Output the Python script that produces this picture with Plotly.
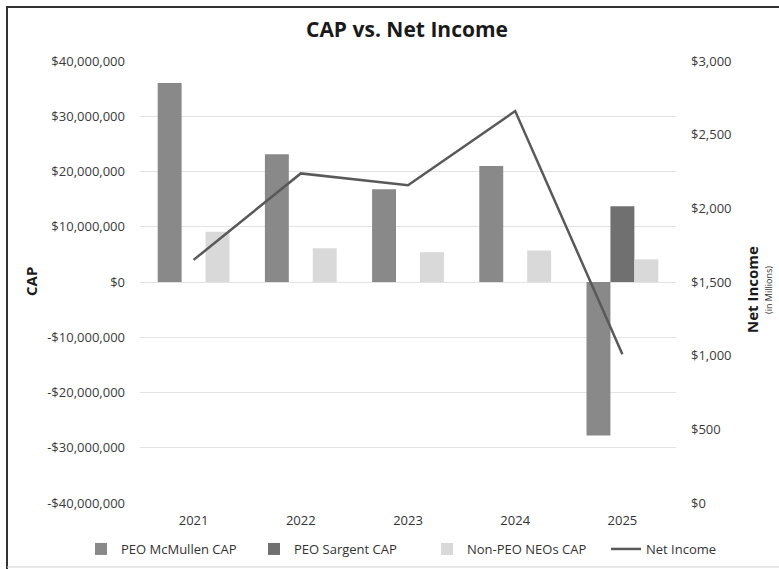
import plotly.graph_objects as go

years = ["2021", "2022", "2023", "2024", "2025"]
mcmullen_cap = [36.0e6, 23.1e6, 16.8e6, 21.0e6, -27.8e6]
sargent_cap = [None, None, None, None, 13.7e6]
non_peo_cap = [9.1e6, 6.1e6, 5.4e6, 5.7e6, 4.1e6]
net_income = [1650, 2237, 2157, 2660, 1010]

left_tick_vals = [-40e6, -30e6, -20e6, -10e6, 0, 10e6, 20e6, 30e6, 40e6]
left_tick_text = ["-$40,000,000", "-$30,000,000", "-$20,000,000", "-$10,000,000", "$0",
                  "$10,000,000", "$20,000,000", "$30,000,000", "$40,000,000"]
right_tick_vals = [0, 500, 1000, 1500, 2000, 2500, 3000]
right_tick_text = ["$0", "$500", "$1,000", "$1,500", "$2,000", "$2,500", "$3,000"]

FONT = "Open Sans, Liberation Sans, sans-serif"
TICK_COLOR = "#3a3a3a"

fig = go.Figure()
fig.add_trace(go.Bar(x=years, y=mcmullen_cap, name="PEO McMullen CAP",
                     marker=dict(color="#898989", line=dict(width=0))))
fig.add_trace(go.Bar(x=years, y=sargent_cap, name="PEO Sargent CAP",
                     marker=dict(color="#707070", line=dict(width=0))))
fig.add_trace(go.Bar(x=years, y=non_peo_cap, name="Non-PEO NEOs CAP",
                     marker=dict(color="#d9d9d9", line=dict(width=0))))
fig.add_trace(go.Scatter(x=years, y=net_income, name="Net Income", yaxis="y2",
                         mode="lines", line=dict(color="#595959", width=2.5),
                         legend="legend2"))

L, R, T, B = 140, 103, 61, 66
W, H = 779, 569
pw, ph = W - L - R, H - T - B

def px_x(px):
    return (px - L) / pw

def px_y(py):
    return (H - B - py) / ph

legend_common = dict(orientation="h", xanchor="left", yref="paper", y=px_y(549),
                     yanchor="middle", font=dict(size=13, color="#333333"),
                     traceorder="normal", itemwidth=30, bgcolor="rgba(0,0,0,0)")

fig.update_layout(
    width=W, height=H,
    margin=dict(l=L, r=R, t=T, b=B, autoexpand=False),
    paper_bgcolor="white", plot_bgcolor="white",
    font=dict(family=FONT, size=13, color=TICK_COLOR),
    barmode="group", bargap=0.33, bargroupgap=0,
    title=dict(text="<b>CAP vs. Net Income</b>", xref="container", x=407 / W, xanchor="center",
               yref="container", y=1 - 30 / H, yanchor="middle",
               font=dict(family=FONT, size=21, color="#1a1a1a")),
    xaxis=dict(type="category", showgrid=False, showline=False, ticks="",
               tickfont=dict(size=13, color="#333333"), ticklabelstandoff=8),
    yaxis=dict(range=[-40e6, 40e6], tickvals=left_tick_vals, ticktext=left_tick_text,
               showgrid=True, gridcolor="#e3e3e3", gridwidth=1,
               zeroline=True, zerolinecolor="#e3e3e3", zerolinewidth=1,
               showline=False, ticks="", ticklabelstandoff=14,
               tickfont=dict(size=13, color=TICK_COLOR)),
    yaxis2=dict(range=[0, 3000], tickvals=right_tick_vals, ticktext=right_tick_text,
                overlaying="y", side="right", showgrid=False, zeroline=False,
                showline=False, ticks="", ticklabelstandoff=14,
                tickfont=dict(size=13, color=TICK_COLOR)),
    legend=dict(xref="paper", x=px_x(81), entrywidth=128, entrywidthmode="pixels",
                **legend_common),
    legend2=dict(xref="paper", x=px_x(606), **legend_common),
    showlegend=True,
    annotations=[
        dict(text="<b>CAP</b>", xref="paper", yref="paper", x=px_x(31), y=px_y(282),
             textangle=-90, showarrow=False, xanchor="center", yanchor="middle",
             font=dict(family=FONT, size=15, color="#1a1a1a")),
        dict(text="<b>Net Income</b>", xref="paper", yref="paper", x=px_x(752), y=px_y(290),
             textangle=-90, showarrow=False, xanchor="center", yanchor="middle",
             font=dict(family=FONT, size=15, color="#1a1a1a")),
        dict(text="(in Millions)", xref="paper", yref="paper", x=px_x(768), y=px_y(290),
             textangle=-90, showarrow=False, xanchor="center", yanchor="middle",
             font=dict(family=FONT, size=9, color="#333333")),
    ],
    shapes=[
        dict(type="line", xref="paper", yref="paper", x0=px_x(6), x1=px_x(779),
             y0=px_y(7), y1=px_y(7), line=dict(color="#333333", width=2)),
        dict(type="line", xref="paper", yref="paper", x0=px_x(7), x1=px_x(7),
             y0=px_y(6), y1=px_y(569), line=dict(color="#333333", width=2)),
        dict(type="line", xref="paper", yref="paper", x0=px_x(7), x1=px_x(779),
             y0=px_y(567), y1=px_y(567), line=dict(color="#d0d0d0", width=1)),
    ],
)

fig.write_html("out.html", config={"displayModeBar": False},
               post_script="document.body.style.margin='0';document.body.style.padding='0';")
